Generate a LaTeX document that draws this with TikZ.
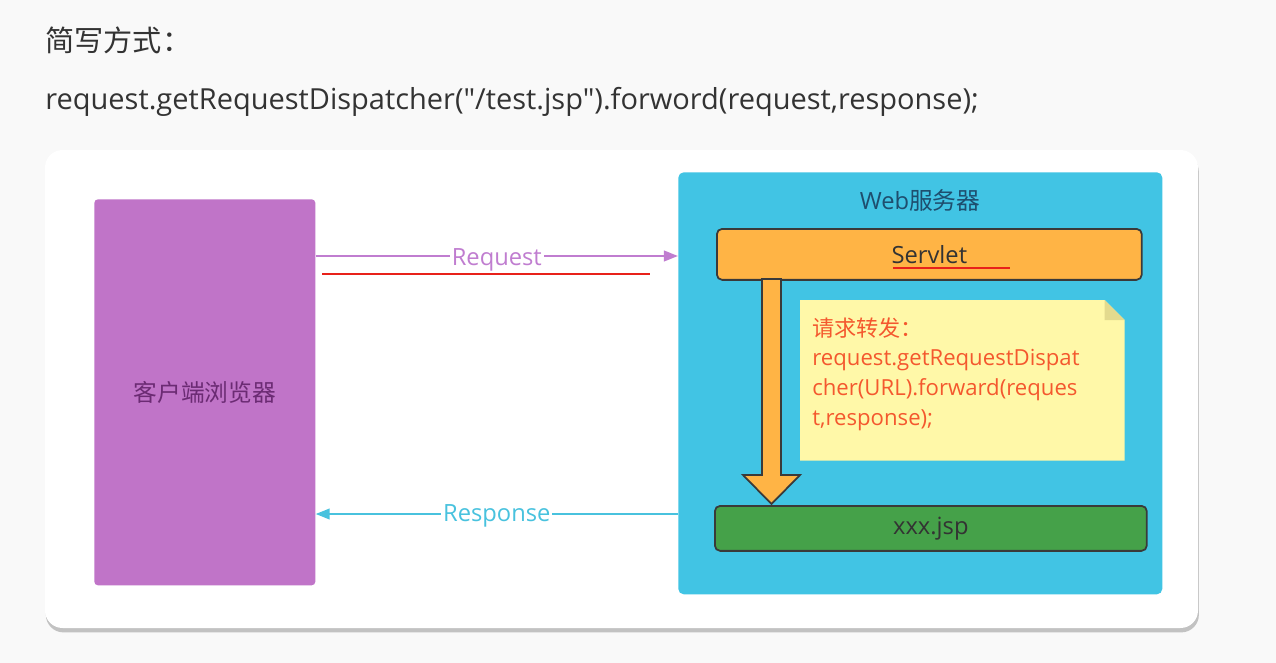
\documentclass[tikz,border=0pt]{standalone}
\usepackage{fontspec}
\setmainfont{Open Sans}
\newfontfamily\codefont{Open Sans}[Ligatures=ResetAll]
\newfontfamily\cjk{Noto Sans CJK SC}
\usetikzlibrary{positioning, shapes, arrows.meta, calc, shadows}

\definecolor{pagebg}{HTML}{F9F9F9}
\definecolor{inktext}{HTML}{333333}
\definecolor{clientfill}{HTML}{C074C8}
\definecolor{clienttext}{HTML}{6B2B73}
\definecolor{serverfill}{HTML}{41C4E4}
\definecolor{servertext}{HTML}{1E4E6E}
\definecolor{servletfill}{HTML}{FFB445}
\definecolor{jspfill}{HTML}{45A149}
\definecolor{notefill}{HTML}{FFF8A8}
\definecolor{notefold}{HTML}{E3DA8E}
\definecolor{notetext}{HTML}{F4582E}
\definecolor{reqcolor}{HTML}{C07DD0}
\definecolor{respcolor}{HTML}{48C2DE}
\definecolor{markred}{HTML}{E8211A}
\definecolor{edgedark}{HTML}{3A3A3A}

\begin{document}
\begin{tikzpicture}[x=0.02cm, y=-0.02cm,
    box/.style={rectangle, inner sep=0pt, anchor=north west},
    label13/.style={font=\fontsize{13.5}{16}\selectfont},
    flow/.style={line width=1.3pt, -{Triangle[length=8pt, width=6pt]}},
    flowlabel/.style={midway, fill=white, inner sep=1pt, label13}]

  % page and card
  \fill[pagebg] (0,0) rectangle (1276,663);
  \useasboundingbox (0,0) rectangle (1276,663);
  \fill[white, rounded corners=10pt, drop shadow={opacity=0.45, shadow xshift=0.5pt, shadow yshift=-2.5pt}]
    (45,150) rectangle (1198,628);

  % heading
  \node[anchor=west, inner sep=0pt, text=inktext, font=\fontsize{16.6}{19}\selectfont] (title) at (45,40) {\cjk 简写方式：};
  \node[anchor=west, inner sep=0pt, text=inktext, font=\codefont\fontsize{16.5}{19}\selectfont] (code) at (45,102)
    {request.getRequestDispatcher("/test.jsp").forword(request,response);};

  % client
  \node[box, fill=clientfill, rounded corners=2pt, minimum width=4.42cm, minimum height=7.72cm] (browser) at (94,199) {};
  \node[label13, text=clienttext] at (browser.center) {\cjk 客户端浏览器};

  % web server
  \node[box, fill=serverfill, rounded corners=3pt, minimum width=9.68cm, minimum height=8.44cm] (server) at (678,172) {};
  \node[label13, text=servertext] (servername) at (920,200) {Web{\cjk 服务器}};

  \node[box, fill=servletfill, draw=edgedark, line width=1pt, rounded corners=3pt,
        minimum width=8.5cm, minimum height=1.02cm] (servlet) at (716,228) {};
  \node[label13, text=inktext] (servletname) at (servlet.center) {Servlet};
  \draw[markred, line width=1.2pt] ($(servlet.south west)+(177,-13)$) -- ($(servlet.south west)+(294,-13)$);

  \node[box, fill=jspfill, draw=edgedark, line width=1pt, rounded corners=3pt,
        minimum width=8.64cm, minimum height=0.9cm] (jsp) at (714,505) {};
  \node[label13, text=inktext] (jspname) at (jsp.center) {xxx.jsp};

  % forward arrow
  \draw[fill=servletfill, draw=edgedark, line width=1pt, line join=miter]
    (762,279) -- (781,279) -- (781,475) -- (800,475) -- (771.5,504) -- (743,475) -- (762,475) -- cycle;

  % note
  \node[box, minimum width=6.48cm, minimum height=3.2cm] (note) at (800,300) {};
  \fill[notefill] (note.north west) -- ($(note.north east)+(-20,0)$) -- ($(note.north east)+(0,20)$)
    -- (note.south east) -- (note.south west) -- cycle;
  \fill[notefold] ($(note.north east)+(-20,0)$) -- ($(note.north east)+(-20,20)$) -- ($(note.north east)+(0,20)$) -- cycle;
  \node[anchor=north west, inner sep=0pt, align=left, text=notetext,
        font=\fontsize{12.6}{17}\selectfont] (notetext) at ($(note.north west)+(12,17)$)
    {{\cjk 请求转发：}\\request.getRequestDispat\\cher(URL).forward(reques\\t,response);};

  % request / response
  \coordinate (reqy) at (0,256);
  \coordinate (respy) at (0,514);
  \draw[flow, reqcolor] (browser.east |- reqy) -- (server.west |- reqy)
    node[flowlabel, text=reqcolor, yshift=-2pt] {Request};
  \draw[markred, line width=1.2pt] (322,274) -- (650,274);
  \draw[flow, respcolor] (server.west |- respy) -- (browser.east |- respy)
    node[flowlabel, text=respcolor, yshift=-1pt] {Response};
\end{tikzpicture}
\end{document}
